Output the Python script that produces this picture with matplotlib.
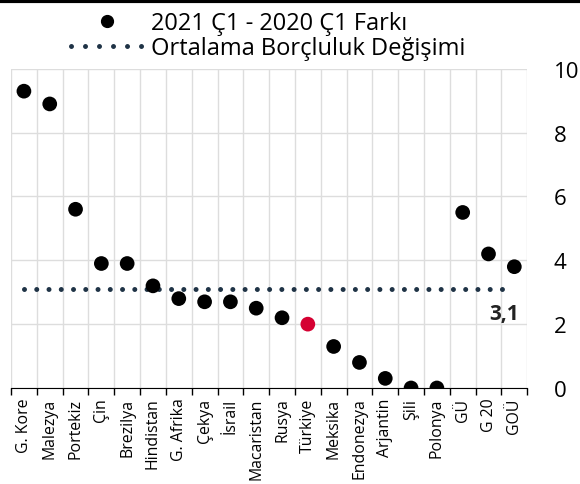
import matplotlib.pyplot as plt
from matplotlib.lines import Line2D
import numpy as np

plt.rcParams['font.family'] = ['Open Sans', 'DejaVu Sans']

# Data
countries = ['G. Kore', 'Malezya', 'Portekiz', 'Çin', 'Brezilya', 'Hindistan',
             'G. Afrika', 'Çekya', 'İsrail', 'Macaristan', 'Rusya', 'Türkiye',
             'Meksika', 'Endonezya', 'Arjantin', 'Şili', 'Polonya', 'GÜ', 'G 20', 'GOÜ']
diff = [9.3, 8.9, 5.6, 3.9, 3.9, 3.2, 2.8, 2.7, 2.7, 2.5, 2.2, 2.0,
        1.3, 0.8, 0.3, 0.0, 0.0, 5.5, 4.2, 3.8]
avg_change = 3.1
highlight = 'Türkiye'

DOTS = (0, (0.001, 2.45))

fig = plt.figure(figsize=(5.8, 4.85), dpi=100)
ax = fig.add_axes([0.019, 0.198, 0.890, 0.658])

x = np.arange(len(countries))
colors = ['#d50032' if c == highlight else 'black' for c in countries]

ax.plot([x[0], x[-1]], [avg_change, avg_change], linestyle=DOTS,
        linewidth=3.6, color='#1f3346', dash_capstyle='round', zorder=2)
ax.scatter(x, diff, s=112, c=colors, zorder=3, linewidths=0)

ax.text(x[-1] + 0.2, avg_change - 0.45, '3,1', fontsize=15, fontweight='bold',
        ha='right', va='top', color='#222222')

ax.set_xlim(-0.5, len(countries) - 0.5)
ax.set_ylim(0, 10)
ax.set_yticks([0, 2, 4, 6, 8, 10])
ax.yaxis.tick_right()
ax.tick_params(axis='y', length=0, labelsize=16, pad=19, colors='black')

ax.set_xticks(x)
ax.set_xticklabels(countries, rotation=90, fontsize=11.4)
ax.tick_params(axis='x', which='major', length=0, pad=7)
ax.set_xticks(np.arange(-0.5, len(countries)), minor=True)
ax.tick_params(axis='x', which='minor', length=5, color='black', width=1)

ax.grid(True, axis='y', color='#dddddd', linewidth=1, zorder=0)
ax.grid(True, axis='x', which='minor', color='#dddddd', linewidth=1, zorder=0)
ax.set_axisbelow(True)

for s in ['top', 'left', 'right']:
    ax.spines[s].set_visible(False)
ax.spines['bottom'].set_color('black')

handles = [
    Line2D([], [], marker='o', linestyle='none', color='black', markersize=8.5),
    Line2D([], [], linestyle=(0, (0.001, 2.8)), linewidth=3.6, color='#1f3346',
           dash_capstyle='round'),
]
fig.legend(handles, ['2021 Ç1 - 2020 Ç1 Farkı', 'Ortalama Borçluluk Değişimi'],
           loc='upper center', bbox_to_anchor=(0.463, 1.0), frameon=False,
           fontsize=17, handlelength=3.0, handletextpad=0.4, labelspacing=0.05,
           borderaxespad=0.1)

fig.add_artist(Line2D([0, 1], [0.996, 0.996], color='black', linewidth=3,
                      transform=fig.transFigure))

fig.savefig('out.png', dpi=100)
